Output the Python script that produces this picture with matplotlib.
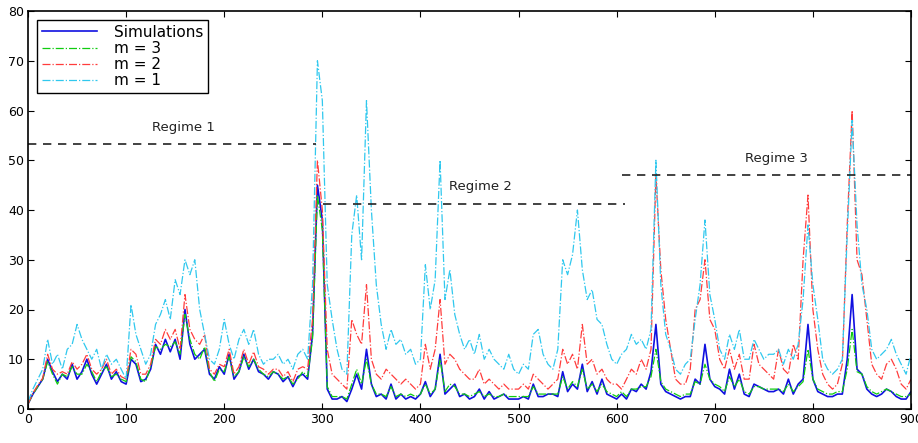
import numpy as np
import matplotlib
matplotlib.use("Agg")
import matplotlib.pyplot as plt

# sample positions (every 5 steps, 0..900)
steps = np.arange(0, 901, 5)

simulations = [
    1.0, 3.0, 4.5, 6.0, 10.0, 7.5, 5.5, 7.0, 6.0, 9.0, 6.0, 7.5, 10.0, 7.0, 5.0, 7.0, 9.0, 6.0, 7.5, 5.5,
    5.0, 10.0, 9.0, 5.5, 6.0, 8.0, 13.0, 11.0, 14.0, 11.5, 14.0, 10.0, 20.0, 13.0, 10.0, 11.0, 12.0, 7.0, 6.0, 8.5,
    7.0, 11.0, 6.0, 7.5, 11.0, 8.0, 10.0, 7.5, 7.0, 6.0, 7.5, 7.0, 5.5, 6.5, 4.5, 6.5, 7.0, 6.0, 15.0, 45.0,
    38.0, 4.0, 2.0, 2.0, 2.5, 1.5, 4.0, 7.0, 4.0, 12.0, 5.0, 2.5, 3.0, 2.0, 5.0, 2.0, 3.0, 2.0, 2.5, 2.0,
    3.0, 5.5, 2.5, 4.0, 11.0, 3.0, 4.0, 5.0, 2.5, 3.0, 2.0, 2.5, 4.0, 2.0, 3.5, 2.0, 2.5, 3.0, 2.0, 2.0,
    2.0, 2.5, 2.0, 5.0, 2.5, 2.5, 3.0, 3.0, 2.5, 7.5, 3.5, 5.0, 4.0, 9.0, 3.5, 5.5, 3.0, 6.0, 3.0, 2.5,
    2.0, 3.0, 2.0, 4.0, 3.5, 5.0, 4.0, 7.5, 17.0, 5.0, 3.5, 3.0, 2.5, 2.0, 2.5, 2.5, 6.0, 5.0, 13.0, 6.0,
    4.5, 4.0, 3.0, 8.0, 4.0, 7.0, 3.0, 2.5, 5.0, 4.5, 4.0, 3.5, 3.5, 4.0, 3.0, 6.0, 3.0, 5.0, 6.0, 17.0,
    6.0, 3.5, 3.0, 2.5, 2.5, 3.0, 3.0, 10.0, 23.0, 8.0, 7.0, 4.0, 3.0, 2.5, 3.0, 4.0, 3.5, 2.5, 2.0, 2.0,
    3.5,
]

m3 = [
    1.0, 3.0, 4.5, 6.0, 9.5, 7.0, 5.0, 7.0, 6.5, 8.5, 7.0, 7.0, 9.0, 7.5, 5.5, 7.5, 8.5, 6.5, 7.0, 6.0,
    5.5, 10.5, 9.5, 6.0, 5.5, 8.5, 12.5, 12.0, 13.0, 12.5, 13.5, 11.0, 19.0, 14.0, 11.0, 10.0, 12.5, 7.5, 5.5, 8.0,
    7.5, 10.5, 6.5, 7.5, 10.5, 8.5, 10.0, 8.0, 7.0, 6.5, 7.5, 7.0, 6.0, 6.5, 5.0, 6.0, 7.5, 6.5, 14.0, 43.0,
    36.0, 4.5, 2.5, 2.5, 2.5, 2.0, 5.0, 8.0, 5.0, 10.0, 5.0, 3.0, 3.0, 2.5, 4.5, 2.5, 3.0, 2.5, 3.0, 2.5,
    3.0, 5.0, 3.0, 4.0, 10.0, 3.5, 5.0, 4.5, 3.0, 3.0, 2.5, 3.0, 3.5, 2.5, 3.0, 2.5, 2.5, 3.0, 2.5, 2.5,
    2.5, 2.5, 2.5, 4.5, 3.0, 3.0, 3.0, 3.0, 3.0, 6.5, 4.0, 5.5, 4.5, 8.0, 4.0, 5.0, 3.5, 5.0, 3.5, 3.0,
    2.5, 3.5, 2.5, 4.0, 4.0, 4.5, 4.5, 6.5, 12.0, 5.5, 4.0, 3.5, 3.0, 2.5, 3.0, 3.0, 5.5, 5.0, 9.0, 6.0,
    5.0, 4.5, 3.5, 6.5, 4.5, 6.0, 3.5, 3.0, 4.5, 4.5, 4.0, 4.0, 4.0, 4.0, 3.5, 5.0, 3.5, 4.5, 5.5, 12.0,
    6.0, 4.0, 3.5, 3.0, 3.0, 3.5, 3.5, 8.0, 16.0, 7.5, 7.0, 4.5, 3.5, 3.0, 3.5, 4.0, 3.5, 3.0, 2.5, 2.5,
    3.0,
]

m2 = [
    1.0, 3.2, 4.8, 6.2, 11.0, 8.0, 7.0, 7.5, 7.0, 9.5, 8.0, 9.0, 11.0, 8.0, 7.0, 8.0, 10.0, 7.0, 8.0, 6.5,
    6.0, 12.0, 11.0, 7.0, 7.0, 9.0, 14.0, 13.0, 16.0, 14.0, 16.0, 12.0, 23.0, 16.0, 14.0, 13.0, 15.0, 8.0, 7.0, 9.0,
    8.5, 12.0, 7.0, 8.5, 12.0, 9.0, 11.5, 8.5, 8.0, 7.0, 8.0, 8.0, 6.5, 7.5, 5.5, 8.0, 8.5, 8.0, 18.0, 50.0,
    40.0, 12.0, 7.0, 6.0, 5.0, 4.0, 18.0, 15.0, 13.0, 25.0, 10.0, 7.0, 6.0, 8.0, 7.0, 6.0, 5.0, 6.0, 5.0, 4.0,
    5.0, 13.0, 8.0, 12.0, 22.0, 9.0, 11.0, 10.0, 8.0, 7.0, 6.0, 6.0, 8.0, 5.0, 6.0, 5.0, 4.0, 5.0, 4.0, 4.0,
    4.0, 5.0, 4.0, 7.0, 6.0, 5.0, 4.0, 5.0, 6.0, 12.0, 9.0, 11.0, 8.0, 17.0, 9.0, 10.0, 7.0, 8.0, 6.0, 5.0,
    5.0, 4.0, 6.0, 8.0, 7.0, 10.0, 8.0, 12.0, 47.0, 28.0, 18.0, 12.0, 6.0, 5.0, 5.0, 8.0, 20.0, 22.0, 30.0, 18.0,
    16.0, 10.0, 8.0, 12.0, 8.0, 11.0, 6.0, 6.0, 13.0, 9.0, 8.0, 7.0, 6.0, 12.0, 8.0, 7.0, 13.0, 10.0, 30.0, 43.0,
    20.0, 12.0, 7.0, 5.0, 4.0, 5.0, 9.0, 37.0, 60.0, 30.0, 27.0, 18.0, 9.0, 7.0, 6.0, 9.0, 10.0, 8.0, 5.0, 4.0,
    6.0,
]

m1 = [
    1.5, 4.0, 6.0, 8.0, 14.0, 9.0, 11.0, 8.0, 12.0, 13.0, 17.0, 14.0, 12.0, 10.0, 12.0, 8.0, 11.0, 9.0, 10.0, 8.0,
    6.0, 21.0, 15.0, 12.0, 9.0, 11.0, 17.0, 19.0, 22.0, 18.0, 26.0, 23.0, 30.0, 27.0, 30.0, 20.0, 15.0, 10.0, 9.0, 12.0,
    18.0, 13.0, 10.0, 14.0, 16.0, 13.0, 16.0, 11.0, 9.0, 10.0, 10.0, 11.0, 9.0, 10.0, 8.0, 11.0, 12.0, 10.0, 25.0, 70.0,
    62.0, 25.0, 18.0, 12.0, 8.0, 7.0, 35.0, 43.0, 30.0, 62.0, 40.0, 25.0, 17.0, 12.0, 16.0, 13.0, 14.0, 11.0, 12.0, 9.0,
    10.0, 29.0, 20.0, 26.0, 50.0, 22.0, 28.0, 19.0, 15.0, 12.0, 14.0, 11.0, 15.0, 10.0, 12.0, 10.0, 9.0, 8.0, 11.0, 8.0,
    7.0, 9.0, 8.0, 15.0, 16.0, 11.0, 9.0, 8.0, 12.0, 30.0, 27.0, 31.0, 40.0, 28.0, 22.0, 24.0, 18.0, 17.0, 13.0, 10.0,
    9.0, 11.0, 12.0, 15.0, 13.0, 14.0, 12.0, 16.0, 50.0, 25.0, 15.0, 12.0, 8.0, 7.0, 9.0, 10.0, 18.0, 25.0, 38.0, 23.0,
    18.0, 12.0, 10.0, 15.0, 12.0, 16.0, 10.0, 10.0, 14.0, 12.0, 10.0, 11.0, 11.0, 12.0, 9.0, 12.0, 10.0, 13.0, 22.0, 37.0,
    25.0, 18.0, 10.0, 8.0, 7.0, 8.0, 10.0, 35.0, 58.0, 37.0, 25.0, 20.0, 12.0, 10.0, 11.0, 12.0, 14.0, 11.0, 9.0, 7.0,
    11.0,
]

# regime marker lines
regime_names = ["Regime 1", "Regime 2", "Regime 3"]
regime_start = [0, 301, 605]
regime_end = [294, 608, 900]
regime_level = [53.2, 41.3, 47.0]
regime_label_x = [158, 461, 763]
regime_label_y = [55.3, 43.4, 49.1]

plt.rcParams['font.family'] = ['DejaVu Sans']

fig = plt.figure(figsize=(9.18, 4.43), dpi=100)
ax = fig.add_axes([28 / 918, 34 / 443, 883 / 918, 398 / 443])

ax.plot(steps, simulations, color='#1010e0', lw=1.2, label='Simulations')
ax.plot(steps, m3, color='#10cc10', lw=0.9, ls='-.', label='m = 3')
ax.plot(steps, m2, color='#ff3c3c', lw=0.9, ls='-.', label='m = 2')
ax.plot(steps, m1, color='#30c8ee', lw=0.9, ls='-.', label='m = 1')

for i in range(len(regime_names)):
    ax.plot([regime_start[i], regime_end[i]], [regime_level[i], regime_level[i]],
            color='#222222', lw=1.2, ls=(0, (5, 4)))
    ax.text(regime_label_x[i], regime_label_y[i], regime_names[i], ha='center', va='bottom',
            fontsize=9.5, color='#222222')

ax.set_xlim(0, 900)
ax.set_ylim(0, 80)
ax.set_xticks(range(0, 901, 100))
ax.set_yticks(range(0, 81, 10))
ax.tick_params(direction='in', top=True, right=True, labelsize=9, length=4, pad=3)
for s in ax.spines.values():
    s.set_linewidth(1.2)

leg = ax.legend(loc='upper left', fontsize=11, fancybox=False, framealpha=1,
                edgecolor='black', handlelength=3.6, handletextpad=1.1,
                labelspacing=0.08, borderpad=0.3, borderaxespad=0.6)
leg.get_frame().set_linewidth(1.0)

fig.savefig('out.png', dpi=100)
